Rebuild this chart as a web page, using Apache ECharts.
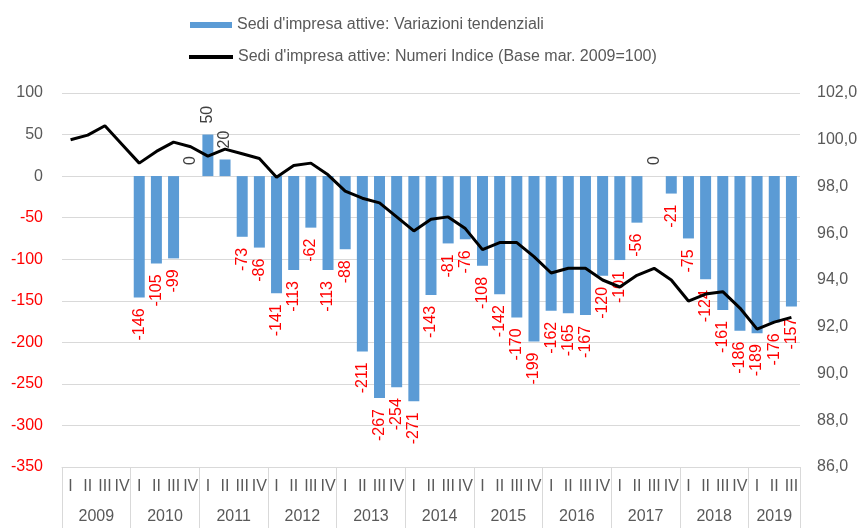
<!DOCTYPE html>
<html>
<head>
<meta charset="utf-8">
<script src="https://cdn.jsdelivr.net/npm/echarts@6/dist/echarts.min.js"></script>
<style>
  html, body { margin: 0; padding: 0; background: #fff; }
  #main { width: 860px; height: 528px; }
</style>
</head>
<body>
<div id="main"></div>
<script>
// anni e trimestri
const years = ['2009', '2010', '2011', '2012', '2013', '2014', '2015', '2016', '2017', '2018', '2019'];
const quarterNames = ['I', 'II', 'III', 'IV'];
const quartersPerYear = [4, 4, 4, 4, 4, 4, 4, 4, 4, 4, 3];

// Sedi d'impresa attive: Variazioni tendenziali
const variazioni = [
  null, null, null, null,
  -146, -105, -99, 0,
  50, 20, -73, -86,
  -141, -113, -62, -113,
  -88, -211, -267, -254,
  -271, -143, -81, -76,
  -108, -142, -170, -199,
  -162, -165, -167, -120,
  -101, -56, 0, -21,
  -75, -124, -161, -186,
  -189, -176, -157
];

// Sedi d'impresa attive: Numeri Indice (Base mar. 2009=100)
const numeriIndice = [
  100.0, 100.2, 100.6, 99.8,
  99.0, 99.5, 99.9, 99.7,
  99.3, 99.6, 99.4, 99.2,
  98.4, 98.9, 99.0, 98.5,
  97.8, 97.5, 97.3, 96.7,
  96.1, 96.6, 96.7, 96.2,
  95.3, 95.6, 95.6, 95.0,
  94.3, 94.5, 94.5, 94.0,
  93.7, 94.2, 94.5, 94.0,
  93.1, 93.4, 93.5, 92.8,
  91.9, 92.2, 92.4
];

const nameBar = "Sedi d'impresa attive: Variazioni tendenziali";
const nameLine = "Sedi d'impresa attive: Numeri Indice (Base mar. 2009=100)";

// etichette trimestri (asse principale)
const quarterLabels = [];
quartersPerYear.forEach(n => {
  for (let q = 0; q < n; q++) quarterLabels.push(quarterNames[q]);
});

// asse anni: mezzi trimestri, anno al centro del suo gruppo
const yearSlots = [];
const yearTicks = [];
let pos = 0;
for (let i = 0; i <= quarterLabels.length * 2; i++) yearSlots.push('');
quartersPerYear.forEach((n, i) => {
  yearTicks.push(pos * 2);
  yearSlots[pos * 2 + n] = years[i];
  pos += n;
});
yearTicks.push(pos * 2);

const barData = variazioni.map(v => {
  if (v === null) return '-';
  if (v < 0) {
    return {
      value: v,
      label: { position: 'bottom', align: 'right', verticalAlign: 'middle', color: '#ff0000' }
    };
  }
  return {
    value: v,
    label: { position: 'top', align: 'left', verticalAlign: 'middle', color: '#404040' }
  };
});

const chart = echarts.init(document.getElementById('main'));
chart.setOption({
  animation: false,
  textStyle: { fontFamily: 'Liberation Sans, Arial, sans-serif' },
  legend: [{
    data: [{ name: nameBar, icon: 'rect' }],
    left: 190,
    top: 17,
    padding: 0,
    itemWidth: 42,
    itemHeight: 6,
    textStyle: { color: '#595959', fontSize: 16 }
  }, {
    data: [{ name: nameLine, icon: 'rect' }],
    left: 189,
    top: 49,
    padding: 0,
    itemWidth: 44,
    itemHeight: 4,
    textStyle: { color: '#595959', fontSize: 16 }
  }],
  grid: {
    left: 62,
    right: 60,
    top: 93,
    bottom: 61,
    outerBoundsMode: 'none'
  },
  xAxis: [{
    type: 'category',
    data: quarterLabels,
    position: 'bottom',
    axisLine: { show: true, onZero: false, lineStyle: { color: '#d9d9d9' } },
    axisTick: { show: false },
    axisLabel: { interval: 0, color: '#595959', fontSize: 16, margin: 12 }
  }, {
    type: 'category',
    data: yearSlots,
    boundaryGap: false,
    position: 'bottom',
    axisLine: { show: false, onZero: false },
    axisTick: {
      show: true,
      length: 62,
      interval: (i) => yearTicks.indexOf(i) >= 0,
      lineStyle: { color: '#d9d9d9' }
    },
    axisLabel: {
      interval: (i, v) => v !== '',
      color: '#595959',
      fontSize: 16,
      margin: 42
    }
  }],
  yAxis: [{
    type: 'value',
    position: 'left',
    min: -350,
    max: 100,
    interval: 50,
    axisLine: { show: false },
    axisTick: { show: false },
    splitLine: { lineStyle: { color: '#d9d9d9' } },
    axisLabel: {
      fontSize: 16,
      margin: 19,
      color: (v) => (Number(v) < 0 ? '#ff0000' : '#595959')
    }
  }, {
    type: 'value',
    position: 'right',
    min: 86,
    max: 102,
    interval: 2,
    axisLine: { show: false },
    axisTick: { show: false },
    splitLine: { show: false },
    axisLabel: {
      fontSize: 16,
      margin: 17,
      color: '#595959',
      formatter: (v) => v.toFixed(1).replace('.', ',')
    }
  }],
  series: [{
    name: nameBar,
    type: 'bar',
    xAxisIndex: 0,
    yAxisIndex: 0,
    data: barData,
    barWidth: '64%',
    itemStyle: { color: '#5b9bd5' },
    label: {
      show: true,
      rotate: 90,
      distance: 11,
      fontSize: 16
    }
  }, {
    name: nameLine,
    type: 'line',
    xAxisIndex: 0,
    yAxisIndex: 1,
    data: numeriIndice,
    symbol: 'none',
    itemStyle: { color: '#000' },
    lineStyle: { color: '#000', width: 3 },
    z: 5
  }]
});
</script>
</body>
</html>
